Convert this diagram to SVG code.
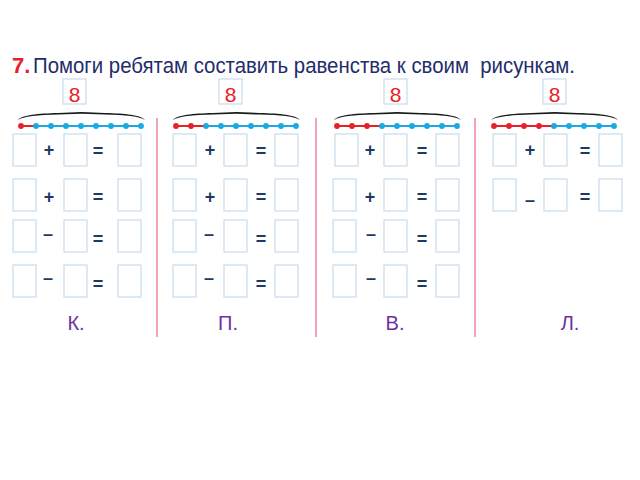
<svg xmlns="http://www.w3.org/2000/svg" xmlns:xlink="http://www.w3.org/1999/xlink" width="640" height="480" viewBox="0 0 640 480">
<style>
.bx{fill:#fff;stroke:#c9dcec;stroke-width:1.2}
.op{font-family:"Liberation Sans",Arial,sans-serif;font-size:18px;font-weight:bold;fill:#1f3864;text-anchor:middle}
.num{font-family:"Liberation Sans Narrow","Liberation Sans",Arial,sans-serif;font-size:21px;fill:#e8202a;text-anchor:middle}
.lbl{font-family:"Liberation Sans",Arial,sans-serif;font-size:20px;fill:#7030a0;text-anchor:middle}
.sep{stroke:#f4a3b4;stroke-width:2}
.rl{stroke:#e8202a;stroke-width:2}
.bl{stroke:#1ba9e1;stroke-width:2}
.rd{fill:#e8202a}
.bd{fill:#1ba9e1}
</style>
<defs>
<rect id="b" class="bx" width="23" height="32"/>
<path id="brace" fill="#1a1a1a" d="M0,0 C4,-5 20,-6.5 40,-7 L63.5,-8 L87,-7 C107,-6.5 123,-5 127,0 C122,-3.5 107,-4.8 87,-5.4 L63.5,-6.2 L40,-5.4 C20,-4.8 5,-3.5 0,0 Z"/>
</defs>
<rect width="640" height="480" fill="#fff"/>
<g id="title">
<text x="12" y="73" font-family="Liberation Sans,Arial,sans-serif" font-size="22" font-weight="bold" fill="#e8202a">7.</text>
<text x="33" y="73" font-family="Liberation Sans,Arial,sans-serif" font-size="22" fill="#1f2d6b" style="white-space:pre" textLength="542" lengthAdjust="spacingAndGlyphs">Помоги ребятам составить равенства к своим  рисункам.</text>
</g>
<g id="connectors">
<line class="sep" x1="157" y1="118" x2="157" y2="337"/>
<line class="sep" x1="316" y1="118" x2="316" y2="337"/>
<line class="sep" x1="475" y1="118" x2="475" y2="337"/>
</g>
<g id="panel-k">
<rect class="bx" x="63" y="79" width="23" height="25"/>
<text class="num" x="74.5" y="102">8</text>
<use xlink:href="#brace" transform="translate(18,120)"/>
<line class="rl" x1="21" y1="126" x2="36" y2="126"/>
<line class="bl" x1="36" y1="126" x2="141" y2="126"/>
<circle class="rd" cx="21" cy="126" r="2.9"/>
<g class="bd"><circle cx="36" cy="126" r="2.9"/><circle cx="51" cy="126" r="2.9"/><circle cx="66" cy="126" r="2.9"/><circle cx="81" cy="126" r="2.9"/><circle cx="96" cy="126" r="2.9"/><circle cx="111" cy="126" r="2.9"/><circle cx="126" cy="126" r="2.9"/><circle cx="141" cy="126" r="2.9"/></g>
<use xlink:href="#b" x="13" y="134"/><use xlink:href="#b" x="64" y="134"/><use xlink:href="#b" x="118" y="134"/>
<use xlink:href="#b" x="13" y="179"/><use xlink:href="#b" x="64" y="179"/><use xlink:href="#b" x="118" y="179"/>
<use xlink:href="#b" x="13" y="220"/><use xlink:href="#b" x="64" y="220"/><use xlink:href="#b" x="118" y="220"/>
<use xlink:href="#b" x="13" y="265"/><use xlink:href="#b" x="64" y="265"/><use xlink:href="#b" x="118" y="265"/>
<text class="op" x="49" y="156">+</text><text class="op" x="98" y="157">=</text>
<text class="op" x="49" y="203">+</text><text class="op" x="98" y="203">=</text>
<text class="op" x="48" y="240">–</text><text class="op" x="98" y="245">=</text>
<text class="op" x="48" y="284">–</text><text class="op" x="98" y="290">=</text>
<text class="lbl" x="76" y="330">К.</text>
</g>
<g id="panel-p">
<rect class="bx" x="219" y="79" width="23" height="25"/>
<text class="num" x="230.5" y="102">8</text>
<use xlink:href="#brace" transform="translate(173,120)"/>
<line class="rl" x1="176" y1="126" x2="206" y2="126"/>
<line class="bl" x1="206" y1="126" x2="296" y2="126"/>
<g class="rd"><circle cx="176" cy="126" r="2.9"/><circle cx="191" cy="126" r="2.9"/></g>
<g class="bd"><circle cx="206" cy="126" r="2.9"/><circle cx="221" cy="126" r="2.9"/><circle cx="236" cy="126" r="2.9"/><circle cx="251" cy="126" r="2.9"/><circle cx="266" cy="126" r="2.9"/><circle cx="281" cy="126" r="2.9"/><circle cx="296" cy="126" r="2.9"/></g>
<use xlink:href="#b" x="173" y="134"/><use xlink:href="#b" x="224" y="134"/><use xlink:href="#b" x="275" y="134"/>
<use xlink:href="#b" x="173" y="179"/><use xlink:href="#b" x="224" y="179"/><use xlink:href="#b" x="275" y="179"/>
<use xlink:href="#b" x="173" y="220"/><use xlink:href="#b" x="224" y="220"/><use xlink:href="#b" x="275" y="220"/>
<use xlink:href="#b" x="173" y="265"/><use xlink:href="#b" x="224" y="265"/><use xlink:href="#b" x="275" y="265"/>
<text class="op" x="210" y="156">+</text><text class="op" x="261" y="157">=</text>
<text class="op" x="210" y="203">+</text><text class="op" x="261" y="203">=</text>
<text class="op" x="209" y="240">–</text><text class="op" x="261" y="245">=</text>
<text class="op" x="209" y="284">–</text><text class="op" x="261" y="290">=</text>
<text class="lbl" x="228" y="330">П.</text>
</g>
<g id="panel-v">
<rect class="bx" x="384" y="79" width="23" height="25"/>
<text class="num" x="395.5" y="102">8</text>
<use xlink:href="#brace" transform="translate(334,120)"/>
<line class="rl" x1="337" y1="126" x2="382" y2="126"/>
<line class="bl" x1="382" y1="126" x2="457" y2="126"/>
<g class="rd"><circle cx="337" cy="126" r="2.9"/><circle cx="352" cy="126" r="2.9"/><circle cx="367" cy="126" r="2.9"/></g>
<g class="bd"><circle cx="382" cy="126" r="2.9"/><circle cx="397" cy="126" r="2.9"/><circle cx="412" cy="126" r="2.9"/><circle cx="427" cy="126" r="2.9"/><circle cx="442" cy="126" r="2.9"/><circle cx="457" cy="126" r="2.9"/></g>
<use xlink:href="#b" x="335" y="134"/><use xlink:href="#b" x="384" y="134"/><use xlink:href="#b" x="436" y="134"/>
<use xlink:href="#b" x="333" y="179"/><use xlink:href="#b" x="384" y="179"/><use xlink:href="#b" x="436" y="179"/>
<use xlink:href="#b" x="333" y="220"/><use xlink:href="#b" x="384" y="220"/><use xlink:href="#b" x="436" y="220"/>
<use xlink:href="#b" x="333" y="265"/><use xlink:href="#b" x="384" y="265"/><use xlink:href="#b" x="436" y="265"/>
<text class="op" x="370" y="156">+</text><text class="op" x="422" y="157">=</text>
<text class="op" x="370" y="203">+</text><text class="op" x="422" y="203">=</text>
<text class="op" x="371" y="240">–</text><text class="op" x="422" y="245">=</text>
<text class="op" x="371" y="284">–</text><text class="op" x="422" y="290">=</text>
<text class="lbl" x="395" y="330">В.</text>
</g>
<g id="panel-l">
<rect class="bx" x="543" y="79" width="23" height="25"/>
<text class="num" x="554.5" y="102">8</text>
<use xlink:href="#brace" transform="translate(491,120)"/>
<line class="rl" x1="494" y1="126" x2="554" y2="126"/>
<line class="bl" x1="554" y1="126" x2="614" y2="126"/>
<g class="rd"><circle cx="494" cy="126" r="2.9"/><circle cx="509" cy="126" r="2.9"/><circle cx="524" cy="126" r="2.9"/><circle cx="539" cy="126" r="2.9"/></g>
<g class="bd"><circle cx="554" cy="126" r="2.9"/><circle cx="569" cy="126" r="2.9"/><circle cx="584" cy="126" r="2.9"/><circle cx="599" cy="126" r="2.9"/><circle cx="614" cy="126" r="2.9"/></g>
<use xlink:href="#b" x="493" y="134"/><use xlink:href="#b" x="544" y="134"/><use xlink:href="#b" x="599" y="134"/>
<use xlink:href="#b" x="493" y="179"/><use xlink:href="#b" x="544" y="179"/><use xlink:href="#b" x="599" y="179"/>
<text class="op" x="530" y="156">+</text><text class="op" x="585" y="157">=</text>
<text class="op" x="530" y="206">–</text><text class="op" x="585" y="203">=</text>
<text class="lbl" x="570" y="330">Л.</text>
</g>
</svg>
